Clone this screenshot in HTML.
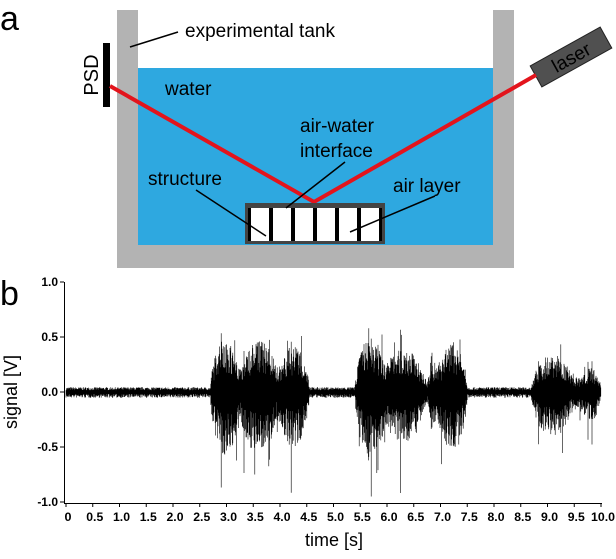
<!DOCTYPE html>
<html><head><meta charset="utf-8"><style>
body{margin:0;background:#fff;width:616px;height:554px;overflow:hidden;font-family:"Liberation Sans",sans-serif}
</style></head><body>
<svg id="s" width="616" height="554" viewBox="0 0 616 554" xmlns="http://www.w3.org/2000/svg" font-family="Liberation Sans, sans-serif">
<text x="0" y="30" font-size="34">a</text>
<rect x="117" y="10" width="21" height="258" fill="#b3b3b3"/>
<rect x="493" y="10" width="21" height="258" fill="#b3b3b3"/>
<rect x="117" y="245" width="397" height="23" fill="#b3b3b3"/>
<rect x="138" y="68" width="355" height="177" fill="#2ea8e0"/>
<rect x="103" y="43" width="7" height="64" fill="#000"/>
<text transform="translate(98,75) rotate(-90)" font-size="20" text-anchor="middle">PSD</text>
<g transform="translate(571,57) rotate(-29)">
<rect x="-40" y="-12" width="80" height="24" fill="#505050" stroke="#222" stroke-width="1"/>
<text x="0" y="7" font-size="19" text-anchor="middle" fill="#000">laser</text>
</g>
<polyline points="110,86 314,202 536,75" fill="none" stroke="#e3141c" stroke-width="4"/>
<rect x="245" y="203" width="140" height="41" fill="#444"/>
<rect x="248" y="208" width="134" height="33" fill="#000"/>
<g fill="#fff">
<rect x="251" y="208" width="18" height="33"/><rect x="273" y="208" width="18" height="33"/><rect x="295" y="208" width="18" height="33"/><rect x="317" y="208" width="18" height="33"/><rect x="339" y="208" width="18" height="33"/><rect x="361" y="208" width="18" height="33"/>
</g>
<text x="185" y="37" font-size="19">experimental tank</text>
<line x1="130" y1="47" x2="178" y2="32" stroke="#000" stroke-width="1.5"/>
<text x="165" y="95" font-size="19">water</text>
<text x="300" y="132" font-size="19">air-water</text>
<text x="300" y="157" font-size="19">interface</text>
<line x1="345" y1="162" x2="286" y2="208" stroke="#000" stroke-width="1.5"/>
<text x="148" y="185" font-size="19">structure</text>
<line x1="196" y1="190" x2="266" y2="236" stroke="#000" stroke-width="1.5"/>
<text x="393" y="192" font-size="19">air layer</text>
<line x1="435" y1="196" x2="350" y2="232" stroke="#000" stroke-width="1.5"/>
<text x="0" y="305" font-size="34">b</text>
<g id="wave" stroke="#000" stroke-width="0.6"></g>
<line x1="64.5" y1="282" x2="64.5" y2="503" stroke="#000" stroke-width="1"/>
<line x1="64" y1="503.5" x2="602" y2="503.5" stroke="#000" stroke-width="1"/>
<g id="ticks" stroke="#000" stroke-width="1"></g>
<g id="lbl" font-size="12" font-weight="bold" font-family="Liberation Sans, sans-serif"></g>
<text transform="translate(17,392) rotate(-90)" font-size="18" text-anchor="middle">signal [V]</text>
<text x="334" y="546" font-size="18" text-anchor="middle">time [s]</text>
</svg>
<script>
var NS="http://www.w3.org/2000/svg";
function el(p,t,a,txt){var e=document.createElementNS(NS,t);for(var k in a)e.setAttribute(k,a[k]);if(txt!=null)e.textContent=txt;p.appendChild(e);return e;}
var x0=66,x1=601,y0=392,ys=110;
var tk=document.getElementById('ticks'),lb=document.getElementById('lbl');
[1,0.5,0,-0.5,-1].forEach(function(v){var y=y0-v*ys;el(tk,'line',{x1:60,x2:64,y1:y,y2:y});el(lb,'text',{x:58,y:y+4,'text-anchor':'end'},v.toFixed(1));});
for(var i=0;i<=20;i++){var t=i*0.5,x=x0+t/10*(x1-x0);el(tk,'line',{x1:x,x2:x,y1:503,y2:507});el(lb,'text',{x:x+2,y:521,'text-anchor':'middle','textLength':(i>=20?24:(i==0?7:17)),'lengthAdjust':'spacingAndGlyphs'},i==0?'0':t.toFixed(1));}
var seed=7;function r(){seed=(seed*16807)%2147483647;return seed/2147483647;}
function bump(t,a,b,h){if(t<a||t>b)return 0;var u=(t-a)/(b-a);return h*Math.pow(Math.sin(Math.PI*u),0.6);}
function env(t){
 var v=0.035;
 v+=bump(t,2.7,3.25,0.36)+bump(t,3.2,4.0,0.34)+bump(t,3.95,4.55,0.3)+bump(t,5.4,5.95,0.36)+bump(t,5.85,6.75,0.28)+bump(t,6.75,7.0,0.18)+bump(t,6.95,7.5,0.33)+bump(t,8.7,9.5,0.24)+bump(t,9.45,9.65,0.08)+bump(t,9.6,10.0,0.14);
 return v;}
var w=document.getElementById('wave'),d='';
for(var x=x0;x<=x1;x+=0.4){var t=(x-x0)/(x1-x0)*10,a=env(t);
 var up=a*(0.45+r()*0.8),dn=a*(0.5+r()*1.0);
 if(a>0.12&&r()<0.05){up*=1.5;dn*=2.0;}
 up=Math.min(up,0.58);dn=Math.min(dn,0.95);
 d+='M'+x.toFixed(1)+' '+(y0-up*ys).toFixed(1)+'V'+(y0+dn*ys).toFixed(1);}
el(w,'path',{d:d,fill:'none'});
</script>
</body></html>
